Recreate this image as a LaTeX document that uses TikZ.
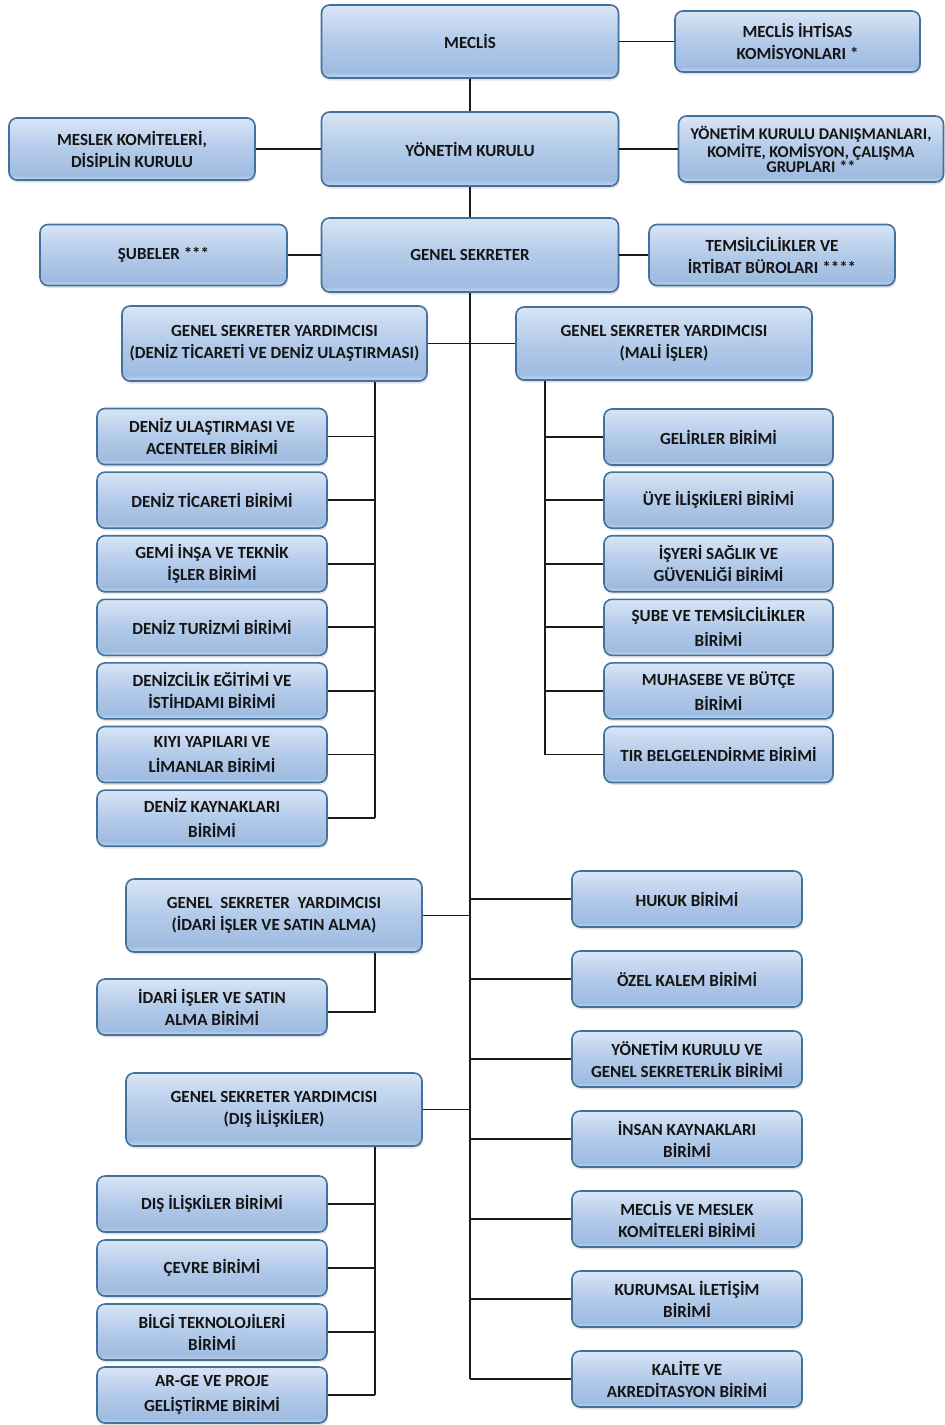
\documentclass[tikz,border=0pt]{standalone}
\usepackage{fontspec}
\setmainfont{Carlito}
\usetikzlibrary{shadows}
\definecolor{bxborder}{HTML}{41719C}
\definecolor{bxtop}{HTML}{D8E5F5}
\definecolor{bxmid}{HTML}{B5CCEA}
\definecolor{bxdark}{HTML}{9EBBE0}
\definecolor{bxbot}{HTML}{C8DAF0}
\definecolor{lncol}{HTML}{1A1A1A}
\newcommand{\stars}[1]{\foreach \i in {1,...,#1}{*\kern-0.5pt}}
\pgfdeclareverticalshading{boxshade}{100bp}{color(0bp)=(bxbot); color(25bp)=(bxbot); color(29bp)=(bxdark); color(52bp)=(bxmid); color(75bp)=(bxtop); color(100bp)=(bxtop)}
\begin{document}
\begin{tikzpicture}[x=1pt,y=-1pt,
  bx/.style={draw=bxborder, line width=1.6pt, rounded corners=8pt, shading=boxshade,
    drop shadow={shadow xshift=1pt, shadow yshift=-2.5pt, opacity=0.22},
    align=center, inner sep=0pt, text=black!92,
    font=\fontsize{17}{22}\selectfont\bfseries,
    minimum width=230pt, minimum height=56pt},
  wide/.style={font=\fontsize{17}{25}\selectfont\bfseries},
  ln/.style={draw=lncol, line width=1.7pt}]
\useasboundingbox (0,0) rectangle (945,1425);

% top level
\node[bx, minimum width=297pt, minimum height=73pt] (meclis) at (470,41.5) {MECLİS};
\node[bx, minimum width=245pt, minimum height=61pt] (ihtisas) at (797.5,41.5) {MECLİS İHTİSAS\\KOMİSYONLARI *};
\node[bx, minimum width=297pt, minimum height=74pt] (yk) at (470,149) {YÖNETİM KURULU};
\node[bx, minimum width=246pt, minimum height=62pt] (meslek) at (132,149) {MESLEK KOMİTELERİ,\\DİSİPLİN KURULU};
\node[bx, minimum width=265pt, minimum height=66pt, font=\fontsize{16.4}{15}\selectfont\bfseries] (danis) at (811,149) {YÖNETİM KURULU DANIŞMANLARI,\\KOMİTE, KOMİSYON, ÇALIŞMA\\GRUPLARI **};
\node[bx, minimum width=297pt, minimum height=74pt] (gs) at (470,255) {GENEL SEKRETER};
\node[bx, minimum width=247pt, minimum height=61pt] (subeler) at (163.5,255) {ŞUBELER ***};
\node[bx, minimum width=246pt, minimum height=61pt] (temsil) at (772,255) {TEMSİLCİLİKLER VE\\İRTİBAT BÜROLARI ****};

% deputies
\node[bx, minimum width=305pt, minimum height=75pt] (gsyD) at (274.5,343.5) {GENEL SEKRETER YARDIMCISI\\(DENİZ TİCARETİ VE DENİZ ULAŞTIRMASI)};
\node[bx, minimum width=296pt, minimum height=73pt] (gsyM) at (664,343.5) {GENEL SEKRETER YARDIMCISI\\(MALİ İŞLER)};

% left children (deniz)
\node[bx] (c1) at (212,436.5) {DENİZ ULAŞTIRMASI VE\\ACENTELER BİRİMİ};
\node[bx] (c2) at (212,500.1) {DENİZ TİCARETİ BİRİMİ};
\node[bx] (c3) at (212,563.7) {GEMİ İNŞA VE TEKNİK\\İŞLER BİRİMİ};
\node[bx] (c4) at (212,627.3) {DENİZ TURİZMİ BİRİMİ};
\node[bx] (c5) at (212,690.9) {DENİZCİLİK EĞİTİMİ VE\\İSTİHDAMI BİRİMİ};
\node[bx, wide] (c6) at (212,754.5) {KIYI YAPILARI VE\\LİMANLAR BİRİMİ};
\node[bx, wide] (c7) at (212,818.1) {DENİZ KAYNAKLARI\\BİRİMİ};

% right children (mali)
\node[bx, minimum width=229pt] (r1) at (718.5,437) {GELİRLER BİRİMİ};
\node[bx, minimum width=229pt] (r2) at (718.5,500.1) {ÜYE İLİŞKİLERİ BİRİMİ};
\node[bx, minimum width=229pt] (r3) at (718.5,563.7) {İŞYERİ SAĞLIK VE\\GÜVENLİĞİ BİRİMİ};
\node[bx, minimum width=229pt, wide] (r4) at (718.5,627.3) {ŞUBE VE TEMSİLCİLİKLER\\BİRİMİ};
\node[bx, minimum width=229pt, wide] (r5) at (718.5,690.9) {MUHASEBE VE BÜTÇE\\BİRİMİ};
\node[bx, minimum width=229pt] (r6) at (718.5,754.5) {TIR BELGELENDİRME BİRİMİ};

% idari
\node[bx, minimum width=296pt, minimum height=73pt] (gsyI) at (274,915.5) {GENEL\hspace{0.45em}SEKRETER\hspace{0.45em}YARDIMCISI\\(İDARİ İŞLER VE SATIN ALMA)};
\node[bx] (idari) at (212,1007) {İDARİ İŞLER VE SATIN\\ALMA BİRİMİ};

% dis iliskiler
\node[bx, minimum width=296pt, minimum height=73pt] (gsyX) at (274,1109.5) {GENEL SEKRETER YARDIMCISI\\(DIŞ İLİŞKİLER)};
\node[bx] (d1) at (212,1204) {DIŞ İLİŞKİLER BİRİMİ};
\node[bx] (d2) at (212,1268) {ÇEVRE BİRİMİ};
\node[bx] (d3) at (212,1332) {BİLGİ TEKNOLOJİLERİ\\BİRİMİ};
\node[bx, wide] (d4) at (212,1395) {AR-GE VE PROJE\\GELİŞTİRME BİRİMİ};

% right column under GS
\node[bx] (h1) at (687,899) {HUKUK BİRİMİ};
\node[bx] (h2) at (687,979) {ÖZEL KALEM BİRİMİ};
\node[bx] (h3) at (687,1059) {YÖNETİM KURULU VE\\GENEL SEKRETERLİK BİRİMİ};
\node[bx] (h4) at (687,1139) {İNSAN KAYNAKLARI\\BİRİMİ};
\node[bx] (h5) at (687,1219) {MECLİS VE MESLEK\\KOMİTELERİ BİRİMİ};
\node[bx] (h6) at (687,1299) {KURUMSAL İLETİŞİM\\BİRİMİ};
\node[bx] (h7) at (687,1379) {KALİTE VE\\AKREDİTASYON BİRİMİ};

% connectors
\draw[ln] (meclis) -- (yk);
\draw[ln] (yk) -- (gs);
\draw[ln] (meclis.east) -- (ihtisas.west);
\draw[ln] (yk.west) -- (meslek.east);
\draw[ln] (yk.east) -- (danis.west);
\draw[ln] (gs.west) -- (subeler.east);
\draw[ln] (gs.east) -- (temsil.west);
\coordinate (mainEnd) at (470,1379);
\draw[ln] (gs.south) -- (mainEnd);
\draw[ln] (gsyD.east) -- (gsyM.west);

\coordinate (vD) at (375,818.1);
\draw[ln] (gsyD.south -| vD) -- (vD);
\foreach \n in {c1,c2,c3,c4,c5,c6,c7} \draw[ln] (\n.east) -- (\n.east -| vD);

\coordinate (vM) at (545,754.5);
\draw[ln] (gsyM.south -| vM) -- (vM);
\foreach \n in {r1,r2,r3,r4,r5,r6} \draw[ln] (\n.west) -- (\n.west -| vM);

\draw[ln] (gsyI.east) -- (gsyI.east -| mainEnd);
\coordinate (vI) at (375,1012);
\draw[ln] (gsyI.south -| vI) -- (vI) -- (idari.east |- vI);

\draw[ln] (gsyX.east) -- (gsyX.east -| mainEnd);
\coordinate (vX) at (375,1395);
\draw[ln] (gsyX.south -| vX) -- (vX);
\foreach \n in {d1,d2,d3,d4} \draw[ln] (\n.east) -- (\n.east -| vX);

\foreach \n in {h1,h2,h3,h4,h5,h6,h7} \draw[ln] (\n.west) -- (\n.west -| mainEnd);
\end{tikzpicture}
\end{document}
